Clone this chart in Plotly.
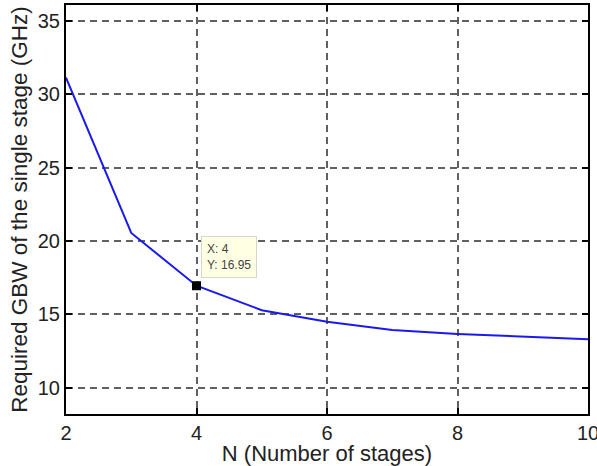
import plotly.graph_objects as go

n_stages = [2, 3, 4, 5, 6, 7, 8, 9, 10]
gbw_ghz = [31.15, 20.55, 16.95, 15.28, 14.5, 13.93, 13.66, 13.48, 13.3]
tip_x = 4
tip_y = 16.95

x_ticks = [2, 4, 6, 8, 10]
y_ticks = [10, 15, 20, 25, 30, 35]

fig = go.Figure()
fig.add_trace(go.Scatter(x=n_stages, y=gbw_ghz, mode="lines",
                         line=dict(color="#1a1aee", width=2), showlegend=False,
                         cliponaxis=False))
fig.add_trace(go.Scatter(x=[tip_x], y=[tip_y], mode="markers",
                         marker=dict(symbol="square", size=9, color="black"),
                         showlegend=False))
fig.add_annotation(x=tip_x, y=tip_y, xref="x", yref="y",
                   text=f"X: {tip_x}<br>Y: {tip_y}", showarrow=False,
                   xanchor="left", yanchor="bottom", xshift=4, yshift=8,
                   align="left", bgcolor="#ffffe3", bordercolor="#d8d8c8",
                   borderwidth=1, borderpad=5,
                   font=dict(family="Liberation Sans", size=12, color="#444444"))

axis_common = dict(showline=True, linecolor="black", linewidth=2, mirror="ticks",
                   ticks="inside", ticklen=6, tickcolor="black", tickwidth=1.5,
                   showgrid=True, gridcolor="#606060", griddash="7px,5px", gridwidth=1.5,
                   zeroline=False, automargin=False,
                   tickfont=dict(family="Liberation Sans", size=20, color="#222222"))

fig.update_xaxes(range=[2, 10], tickvals=x_ticks, title_text="N (Number of stages)",
                 title_standoff=4, ticklabeloverflow="allow",
                 title_font=dict(family="Liberation Sans", size=22, color="#222222"),
                 **axis_common)
fig.update_yaxes(range=[8.2, 36.1], tickvals=y_ticks,
                 title_text="Required GBW of the single stage (GHz)",
                 title_standoff=4,
                 title_font=dict(family="Liberation Sans", size=22.5, color="#222222"),
                 **axis_common)

fig.update_layout(width=597, height=466, margin=dict(l=66, r=9, t=5, b=52),
                  plot_bgcolor="white", paper_bgcolor="white")
fig.write_html("out.html")
